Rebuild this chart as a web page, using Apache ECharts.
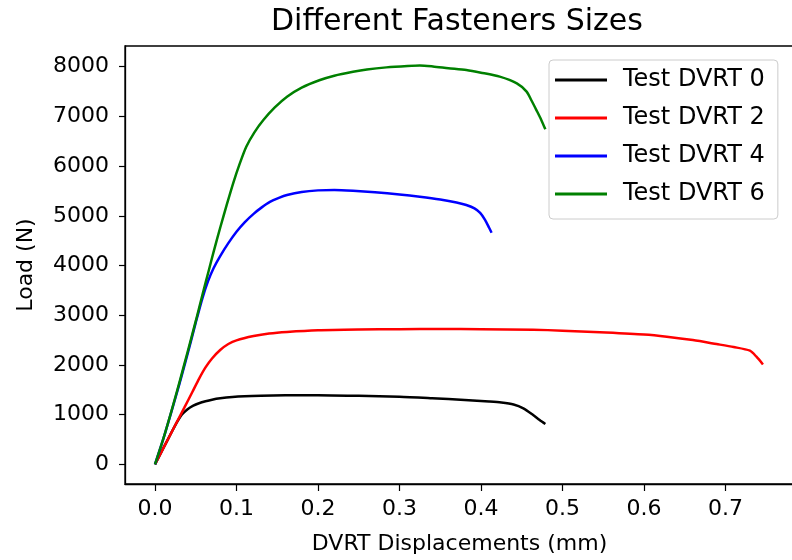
<!DOCTYPE html>
<html>
<head>
<meta charset="utf-8">
<script src="https://cdn.jsdelivr.net/npm/echarts@6/dist/echarts.min.js"></script>
<style>html,body{margin:0;padding:0;background:#fff}#chart{width:792px;height:560px}</style>
</head>
<body>
<div id="chart"></div>
<script>
// Data (x: displacement mm, y: load N)
const seriesNames = ['Test DVRT 0', 'Test DVRT 2', 'Test DVRT 4', 'Test DVRT 6'];
const xTicks = [0, 0.1, 0.2, 0.3, 0.4, 0.5, 0.6, 0.7];
const yTicks = [0, 1000, 2000, 3000, 4000, 5000, 6000, 7000, 8000];

const dvrt0 = [[0,0],[0.012,380],[0.024,760],[0.033,1000],[0.04,1110],[0.047,1180],[0.054,1228],[0.062,1268],[0.07,1300],[0.08,1328],[0.095,1355],[0.11,1370],[0.13,1380],[0.16,1388],[0.2,1390],[0.25,1378],[0.3,1360],[0.34,1330],[0.38,1296],[0.41,1265],[0.425,1245],[0.44,1205],[0.452,1127],[0.464,992],[0.472,891],[0.479,811]];
const dvrt2 = [[0,0],[0.012,380],[0.024,760],[0.036,1140],[0.046,1460],[0.054,1720],[0.062,1950],[0.07,2130],[0.08,2300],[0.09,2420],[0.1,2495],[0.121,2580],[0.14,2630],[0.162,2662],[0.2,2696],[0.25,2712],[0.3,2720],[0.35,2722],[0.4,2720],[0.464,2708],[0.5,2690],[0.546,2656],[0.6,2610],[0.628,2567],[0.66,2500],[0.689,2420],[0.71,2360],[0.73,2286],[0.738,2165],[0.746,2010]];
const dvrt4 = [[0,0],[0.01,500],[0.02,1050],[0.03,1620],[0.04,2220],[0.05,2850],[0.058,3330],[0.065,3680],[0.072,3950],[0.08,4190],[0.09,4450],[0.1,4680],[0.11,4870],[0.121,5040],[0.131,5170],[0.141,5280],[0.152,5360],[0.162,5418],[0.18,5480],[0.2,5512],[0.22,5520],[0.243,5505],[0.27,5475],[0.3,5430],[0.325,5385],[0.35,5330],[0.37,5270],[0.382,5217],[0.392,5150],[0.399,5060],[0.405,4920],[0.41,4760],[0.413,4660]];
const dvrt6 = [[0,0],[0.01,500],[0.02,1060],[0.03,1650],[0.04,2260],[0.05,2880],[0.059,3460],[0.066,3900],[0.072,4280],[0.08,4760],[0.088,5220],[0.096,5660],[0.104,6050],[0.112,6390],[0.122,6680],[0.133,6927],[0.147,7180],[0.162,7396],[0.18,7580],[0.2025,7732],[0.22,7820],[0.243,7899],[0.26,7945],[0.284,7987],[0.31,8015],[0.325,8025],[0.341,8005],[0.36,7970],[0.382,7933],[0.4,7880],[0.423,7800],[0.444,7665],[0.456,7500],[0.462,7320],[0.468,7128],[0.474,6930],[0.479,6740]];
const seriesData = [dvrt0, dvrt2, dvrt4, dvrt6];
const seriesColors = ['#000000', '#ff0000', '#0000ff', '#008000'];

const FONT = 'DejaVu Sans';
const chart = echarts.init(document.getElementById('chart'), null, {renderer: 'canvas'});
chart.setOption({
  animation: false,
  backgroundColor: '#ffffff',
  title: {
    text: 'Different Fasteners Sizes',
    left: 271, top: 7, padding: 0,
    textStyle: {fontFamily: FONT, fontSize: 30, fontWeight: 'normal', color: '#000'}
  },
  legend: {
    orient: 'vertical',
    left: 549, top: 60,
    padding: [8, 13, 13, 6],
    icon: 'rect',
    itemWidth: 52, itemHeight: 3, itemGap: 14,
    backgroundColor: 'rgba(255,255,255,0.8)',
    borderColor: '#cccccc', borderWidth: 1, borderRadius: 4,
    textStyle: {fontFamily: FONT, fontSize: 24, color: '#000', lineHeight: 24, height: 24, padding: [0, 0, 0, 11]},
    data: seriesNames
  },
  grid: {
    left: 125, top: 46, right: -2, bottom: 76,
    show: true, borderColor: '#000', borderWidth: 1.3,
    containLabel: false, outerBoundsMode: 'none'
  },
  xAxis: {
    type: 'value', min: -0.0368, max: 0.7841,
    name: 'DVRT Displacements (mm)', nameLocation: 'middle', nameGap: 49,
    nameTextStyle: {fontFamily: FONT, fontSize: 22, color: '#000'},
    axisLine: {show: true, onZero: false, lineStyle: {color: '#000', width: 1.3}},
    axisTick: {show: true, length: 7, lineStyle: {color: '#000', width: 1.2}, customValues: xTicks},
    axisLabel: {fontFamily: FONT, fontSize: 22, color: '#000', margin: 14, customValues: xTicks,
      formatter: v => v.toFixed(1)},
    splitLine: {show: false}
  },
  yAxis: {
    type: 'value', min: -396, max: 8417,
    name: 'Load (N)', nameLocation: 'middle', nameGap: 88, nameRotate: 90,
    nameTextStyle: {fontFamily: FONT, fontSize: 22, color: '#000'},
    axisLine: {show: true, onZero: false, lineStyle: {color: '#000', width: 1.3}},
    axisTick: {show: true, length: 6, lineStyle: {color: '#000', width: 1.2}, customValues: yTicks},
    axisLabel: {fontFamily: FONT, fontSize: 22, color: '#000', margin: 16, customValues: yTicks,
      formatter: v => String(v)},
    splitLine: {show: false}
  },
  series: seriesNames.map((name, i) => ({
    name: name,
    type: 'line',
    data: seriesData[i],
    symbol: 'none',
    smooth: 0.25,
    color: seriesColors[i],
    itemStyle: {color: seriesColors[i]},
    lineStyle: {color: seriesColors[i], width: 2.5},
    z: 2 + i
  }))
});
</script>
</body>
</html>
